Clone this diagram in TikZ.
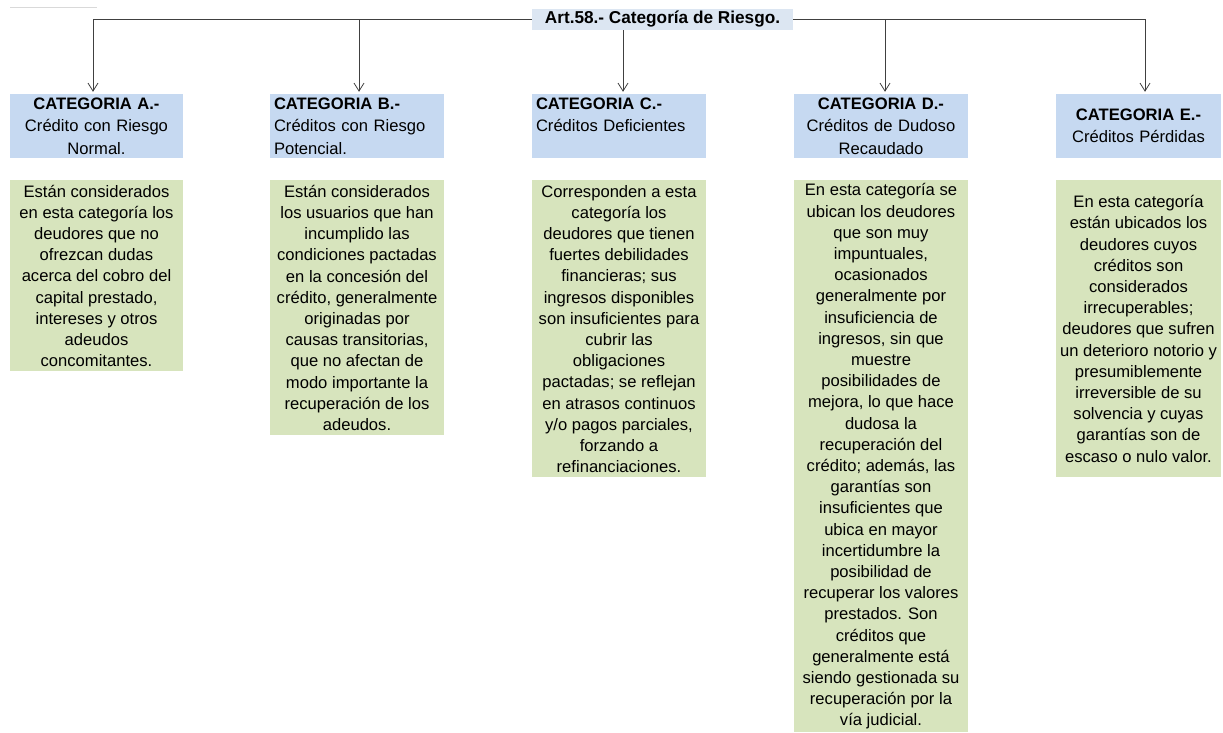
\documentclass[tikz,border=0pt]{standalone}
\usepackage{fontspec}
\setmainfont{Liberation Sans}
\usepackage{tikz}
\usetikzlibrary{positioning, arrows.meta, calc}

\definecolor{titlefill}{HTML}{DCE6F2}
\definecolor{catfill}{HTML}{C6D9F1}
\definecolor{descfill}{HTML}{D7E4BD}
\definecolor{linegray}{HTML}{404040}

\tikzset{
    titlebox/.style={fill=titlefill, inner sep=0, minimum width=261pt, minimum height=21pt,
        font=\fontsize{17.2}{20}\selectfont\bfseries},
    catbox/.style={fill=catfill, inner xsep=4pt, inner ysep=0, minimum height=64pt,
        font=\fontsize{16.6}{22.5}\selectfont},
    descbox/.style={fill=descfill, inner sep=0, align=center,
        font=\fontsize{16.6}{21.2}\selectfont},
    conn/.style={linegray, line width=0.8pt, -{Straight Barb[length=8pt,width=10pt]}, shorten >=2pt},
}

\begin{document}
\begin{tikzpicture}[x=1pt, y=-1pt, node distance=22pt]
    \useasboundingbox (0,0) rectangle (1223,732);

    % faint rule top left
    \draw[lightgray!60, line width=0.6pt] (10,7) -- (97,7);

    % title
    \node[titlebox] (title) at (662.5,19.5) {Art.58.- Categoría de Riesgo.};

    % categories
    \node[catbox, text width=165pt, align=center] (catA) at (96.5,126)
        {\textbf{CATEGORIA A.-}\\Crédito con Riesgo\\Normal.};
    \node[catbox, text width=166pt, align=left] (catB) at (357,126)
        {\textbf{CATEGORIA B.-}\\Créditos con Riesgo\\Potencial.};
    \node[catbox, text width=166pt, align=left] (catC) at (619,126)
        {\textbf{CATEGORIA C.-}\\Créditos Deficientes\\~};
    \node[catbox, text width=166pt, align=center] (catD) at (881,126)
        {\textbf{CATEGORIA D.-}\\Créditos de Dudoso\\Recaudado};
    \node[catbox, text width=157pt, align=center] (catE) at (1138.5,126)
        {\textbf{CATEGORIA E.-}\\Créditos Pérdidas};

    % descriptions
    \node[descbox, below=of catA, minimum width=173pt, minimum height=191pt] (descA)
        {Están considerados\\en esta categoría los\\deudores que no\\ofrezcan dudas\\acerca del cobro del\\capital prestado,\\intereses y otros\\adeudos\\concomitantes.};
    \node[descbox, below=of catB, minimum width=174pt, minimum height=255pt] (descB)
        {Están considerados\\los usuarios que han\\incumplido las\\condiciones pactadas\\en la concesión del\\crédito, generalmente\\originadas por\\causas transitorias,\\que no afectan de\\modo importante la\\recuperación de los\\adeudos.};
    \node[descbox, below=of catC, minimum width=174pt, minimum height=297pt] (descC)
        {Corresponden a esta\\categoría los\\deudores que tienen\\fuertes debilidades\\financieras; sus\\ingresos disponibles\\son insuficientes para\\cubrir las\\obligaciones\\pactadas; se reflejan\\en atrasos continuos\\y/o pagos parciales,\\forzando a\\refinanciaciones.};
    \node[descbox, below=of catD, minimum width=174pt, minimum height=552pt] (descD)
        {En esta categoría se\\ubican los deudores\\que son muy\\impuntuales,\\ocasionados\\generalmente por\\insuficiencia de\\ingresos, sin que\\muestre\\posibilidades de\\mejora, lo que hace\\dudosa la\\recuperación del\\crédito; además, las\\garantías son\\insuficientes que\\ubica en mayor\\incertidumbre la\\posibilidad de\\recuperar los valores\\prestados. Son\\créditos que\\generalmente está\\siendo gestionada su\\recuperación por la\\vía judicial.};
    \node[descbox, below=of catE, minimum width=165pt, minimum height=297pt] (descE)
        {En esta categoría\\están ubicados los\\deudores cuyos\\créditos son\\considerados\\irrecuperables;\\deudores que sufren\\un deterioro notorio y\\presumiblemente\\irreversible de su\\solvencia y cuyas\\garantías son de\\escaso o nulo valor.};

    % connectors
    \foreach \cat/\side/\dx in {catA/west/-3.5, catB/west/2, catD/east/4, catE/east/6.5}
    {
        \draw[conn] (title.\side) -| ([xshift=\dx pt]\cat.north);
    }
    \draw[conn] ([xshift=4pt]catC.north |- title.south) -- ([xshift=4pt]catC.north);
\end{tikzpicture}
\end{document}
